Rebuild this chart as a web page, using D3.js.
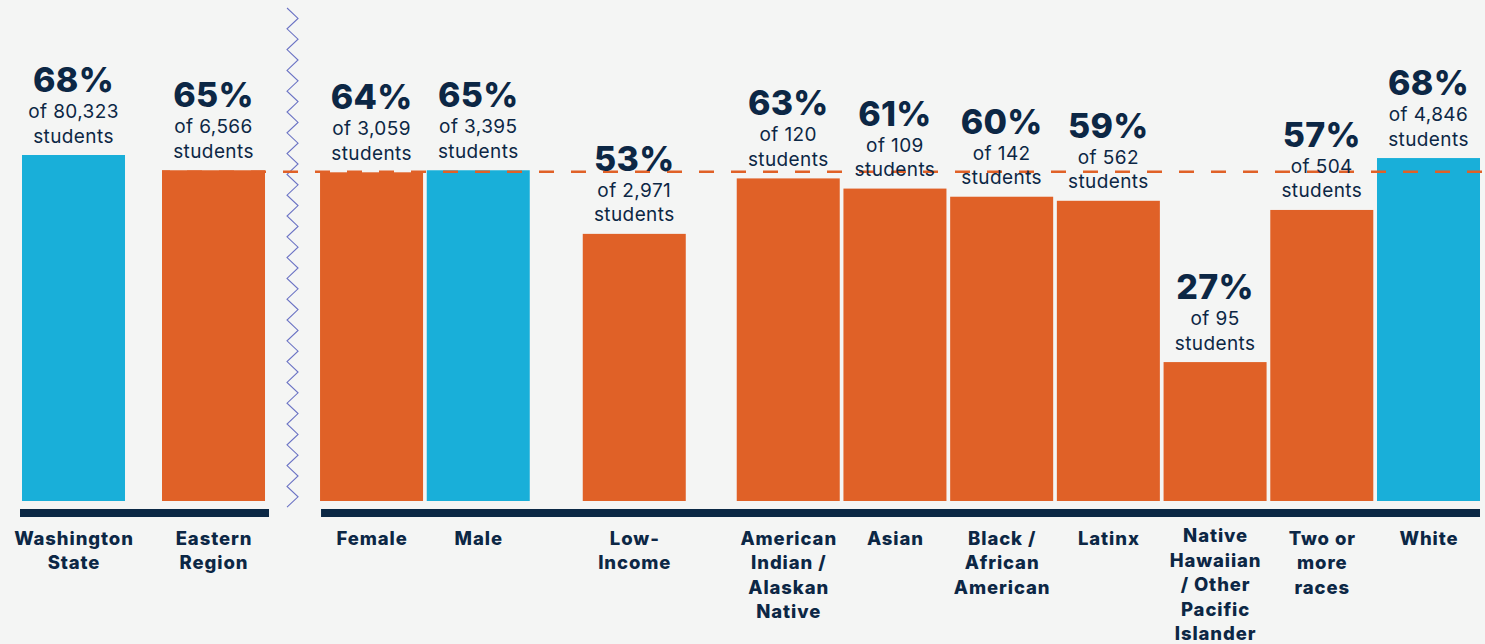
<!DOCTYPE html>
<html>
<head>
<meta charset="utf-8">
<script src="https://cdn.jsdelivr.net/npm/d3@7"></script>
<style>
  html, body { margin: 0; padding: 0; background: #f4f5f4; }
  svg { display: block; }
  text { font-family: Inter, "Noto Sans", sans-serif; fill: #0c2745; }
</style>
</head>
<body>
<svg id="chart" width="1485" height="644"></svg>
<script>
// ---- data ----
const categories = ["Washington State", "Eastern Region", "Female", "Male", "Low-Income",
  "American Indian / Alaskan Native", "Asian", "Black / African American", "Latinx",
  "Native Hawaiian / Other Pacific Islander", "Two or more races", "White"];
const labelLines = [["Washington", "State"], ["Eastern", "Region"], ["Female"], ["Male"], ["Low-", "Income"],
  ["American", "Indian /", "Alaskan", "Native"], ["Asian"], ["Black /", "African", "American"], ["Latinx"],
  ["Native", "Hawaiian", "/ Other", "Pacific", "Islander"], ["Two or", "more", "races"], ["White"]];
const values = [68.0, 65.0, 64.6, 65.0, 52.5, 63.4, 61.4, 59.8, 59.0, 27.3, 57.2, 67.4];
const pctLabels = ["68%", "65%", "64%", "65%", "53%", "63%", "61%", "60%", "59%", "27%", "57%", "68%"];
const studentCounts = ["80,323", "6,566", "3,059", "3,395", "2,971", "120", "109", "142", "562", "95", "504", "4,846"];
const groups = [0, 1, 2, 2, 3, 4, 4, 4, 4, 4, 4, 4];
const highlight = [true, false, false, true, false, false, false, false, false, false, false, true];
const referenceCategory = "Eastern Region";

// ---- layout ----
const groupGaps = [0, 0.312, 0.793, 1.255, 1.698]; // cumulative extra space before each group, in slot units
const barFrac = 103 / 106.7;
const slotPos = categories.map((c, i) => i + groupGaps[groups[i]]);
const totalUnits = slotPos[slotPos.length - 1] + barFrac;

const svg = d3.select("#chart");
const x = d3.scaleLinear().domain([0, totalUnits]).range([22, 1480]);
const y = d3.scaleLinear().domain([0, 68]).range([501, 155]);
const bw = x(barFrac) - x(0);

const colBlue = "#19afd9", colOrange = "#e06127", navy = "#0b2845";

// zigzag divider
const zzTop = 8, zzBottom = 513, zzHalf = 10.4;
const zzX = (x(slotPos[1] + barFrac) + x(slotPos[2])) / 2;
const zzPts = d3.range(zzTop, zzBottom, zzHalf).map((yy, i) => [zzX + (i % 2 === 0 ? -5.5 : 5.5), yy]);
svg.append("path")
  .attr("d", d3.line()(zzPts))
  .attr("fill", "none").attr("stroke", "#6a72c4").attr("stroke-width", 1.1);

// bars
svg.append("g").selectAll("rect")
  .data(categories)
  .join("rect")
  .attr("x", (d, i) => x(slotPos[i]))
  .attr("width", bw)
  .attr("y", (d, i) => y(values[i]))
  .attr("height", (d, i) => y(0) - y(values[i]))
  .attr("fill", (d, i) => highlight[i] ? colBlue : colOrange);

// reference dashed line
const refIdx = categories.indexOf(referenceCategory);
const refY = y(values[refIdx]) + 1.5;
svg.append("line")
  .attr("x1", x(slotPos[refIdx])).attr("x2", 1485)
  .attr("y1", refY).attr("y2", refY)
  .attr("stroke", colOrange).attr("stroke-width", 2.5)
  .attr("stroke-dasharray", "15,17")
  .attr("stroke-dashoffset", 7);

// baseline segments
const segs = [[0, 1], [2, 11]];
svg.append("g").selectAll("line")
  .data(segs)
  .join("line")
  .attr("x1", d => x(slotPos[d[0]]) - (d[0] === 0 ? 2 : -1))
  .attr("x2", d => x(slotPos[d[1]] + barFrac) + (d[0] === 0 ? 4 : 0))
  .attr("y1", 513).attr("y2", 513)
  .attr("stroke", navy).attr("stroke-width", 8);

// value labels
const lab = svg.append("g").selectAll("g")
  .data(categories)
  .join("g")
  .attr("transform", (d, i) => `translate(${x(slotPos[i]) + bw / 2},${y(values[i])})`)
  .attr("text-anchor", "middle");
lab.append("text").attr("y", -63).attr("font-size", 34).attr("font-weight", 800)
  .attr("letter-spacing", 0.3)
  .text((d, i) => pctLabels[i]);
lab.append("text").attr("y", -37).attr("font-size", 19).attr("font-weight", 400)
  .attr("letter-spacing", 0.4)
  .text((d, i) => "of " + studentCounts[i]);
lab.append("text").attr("y", -12.5).attr("font-size", 19).attr("font-weight", 400)
  .attr("letter-spacing", 0.4)
  .text("students");

// category axis
const xc = d3.scaleOrdinal().domain(categories).range(categories.map((c, i) => x(slotPos[i]) + bw / 2));
const axisG = svg.append("g").attr("transform", "translate(0,520)")
  .call(d3.axisBottom(xc).tickSize(0).tickPadding(0));
axisG.select(".domain").remove();
axisG.selectAll(".tick text").each(function(d, i) {
  const t = d3.select(this).text(null)
    .attr("font-size", 18.5).attr("font-weight", 800)
    .attr("letter-spacing", 0.9)
    .attr("font-family", "Inter, 'Noto Sans', sans-serif")
    .attr("fill", navy)
    .attr("dy", null).attr("y", labelLines[i].length > 4 ? 22 : 24.5);
  labelLines[i].forEach((ln, j) => {
    t.append("tspan").attr("x", 0).attr("dy", j === 0 ? 0 : 24.5).text(ln);
  });
});
</script>
</body>
</html>
